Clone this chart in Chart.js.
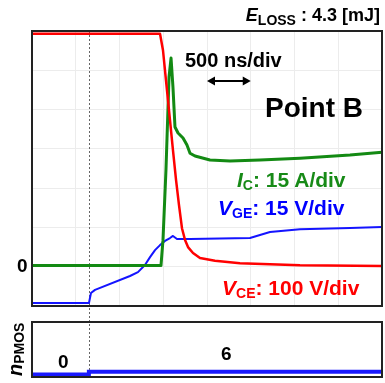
<!DOCTYPE html>
<html>
<head>
<meta charset="utf-8">
<script src="https://cdn.jsdelivr.net/npm/chart.js@4.4.1/dist/chart.umd.min.js"></script>
<style>
  html, body { margin: 0; padding: 0; background: #fff; }
  #wrap { position: relative; width: 385px; height: 383px; overflow: hidden;
          font-family: 'Liberation Sans', Arial, sans-serif; font-weight: bold; }
  canvas { position: absolute; left: 0; }
  .lbl { position: absolute; white-space: nowrap; line-height: 1; }
  .sub { position: relative; top: 3px; font-size: 14px; }
  i { font-style: italic; }
</style>
</head>
<body>
<div id="wrap">
  <canvas id="mainChart" width="385" height="308" style="top:0"></canvas>
  <canvas id="pmosChart" width="385" height="75" style="top:308px"></canvas>

  <div class="lbl" style="right:5px; top:6px; font-size:18px; color:#000">
    <i>E</i><span class="sub" style="top:4px">LOSS</span> : 4.3 [mJ]</div>
  <div class="lbl" style="left:185px; top:50px; font-size:20px; color:#000">500 ns/div</div>
  <div class="lbl" style="left:265px; top:94px; font-size:28px; color:#000">Point B</div>
  <div class="lbl" style="left:237px; top:169px; font-size:21px; color:#178a17">
    <i>I</i><span class="sub">C</span>: 15 A/div</div>
  <div class="lbl" style="left:218px; top:197px; font-size:21px; color:#0000ff">
    <i>V</i><span class="sub">GE</span>: 15 V/div</div>
  <div class="lbl" style="left:222px; top:277px; font-size:21px; color:#ff0000">
    <i>V</i><span class="sub">CE</span>: 100 V/div</div>
  <div class="lbl" style="left:17px; top:256px; font-size:19px; color:#000">0</div>
  <div class="lbl" style="left:58px; top:352px; font-size:19px; color:#000">0</div>
  <div class="lbl" style="left:221px; top:344px; font-size:19px; color:#000">6</div>
  <div class="lbl" style="left:5px; top:376px; font-size:20px; color:#000;
       transform: rotate(-90deg); transform-origin: left top;">
    <i>n</i><span class="sub" style="top:2px">PMOS</span></div>
</div>

<script>
// time axis (ns), 500 ns/div, 8 divisions
const timeRange = [0, 4000];
const gateOnTime = 650;      // dashed marker (gate turn-on)
const arrowSpan = [2000, 2500];

// V_CE (V), 100 V/div
const vceTime = [0, 1463, 1497, 1531, 1554, 1577, 1611, 1646, 1680, 1714, 1749, 1783, 1840, 1920, 2091, 2377, 3063, 4000];
const vceVolt = [590, 590, 548, 472, 421, 370, 294, 218, 154, 95, 65, 47, 32, 19, 12, 6, 1, -1];

// I_C (A), 15 A/div
const icTime = [0, 1474, 1497, 1531, 1566, 1589, 1611, 1634, 1669, 1726, 1771, 1806, 1863, 2034, 2263, 2606, 3063, 3634, 4000];
const icAmp = [0, 0, 9.7, 36.5, 72, 79.2, 68.1, 52.9, 50.6, 48.7, 46, 42.9, 41.8, 40.3, 39.9, 40.3, 41, 42.2, 43.3];

// V_GE (V), 15 V/div
const vgeTime = [0, 651, 674, 720, 1120, 1211, 1291, 1349, 1406, 1463, 1520, 1577, 1611, 1657, 1806, 2491, 2720, 3063, 3634, 4000];
const vgeVolt = [-14.3, -14.3, -10.5, -9.3, -4, -2.5, 0.2, 3.2, 5.9, 7.8, 9.4, 10.5, 11.3, 10.1, 10.1, 10.5, 12.8, 13.9, 14.3, 14.7];

// n_PMOS (count)
const pmosTime = [0, 650, 650, 4000];
const pmosCount = [0, 0, 6, 6];

function pts(xs, ys) {
    return xs.map((x, i) => ({ x: x, y: ys[i] }));
}

// frame, dashed marker and time-scale arrow
const decor = {
    id: 'decor',
    beforeDatasetsDraw(chart) {
        const ctx = chart.ctx;
        const a = chart.chartArea;
        const x = Math.round(chart.scales.x.getPixelForValue(gateOnTime)) + 0.5;
        ctx.save();
        ctx.strokeStyle = '#666';
        ctx.lineWidth = 1;
        ctx.setLineDash([2, 2]);
        ctx.beginPath();
        ctx.moveTo(x, chart.options.plugins.decor.fromTop ? 0 : a.top);
        ctx.lineTo(x, a.bottom);
        ctx.stroke();
        ctx.restore();
    },
    afterDraw(chart) {
        const ctx = chart.ctx;
        const a = chart.chartArea;
        ctx.save();
        ctx.strokeStyle = '#222';
        ctx.lineWidth = 2;
        ctx.strokeRect(a.left, a.top, a.right - a.left, a.bottom - a.top);
        if (chart.options.plugins.decor.arrow) {
            const x1 = chart.scales.x.getPixelForValue(arrowSpan[0]);
            const x2 = chart.scales.x.getPixelForValue(arrowSpan[1]);
            const y = Math.round(chart.scales.y.getPixelForValue(5.73));
            ctx.strokeStyle = '#000';
            ctx.fillStyle = '#000';
            ctx.lineWidth = 2;
            ctx.beginPath();
            ctx.moveTo(x1 + 5, y);
            ctx.lineTo(x2 - 5, y);
            ctx.stroke();
            ctx.beginPath();
            ctx.moveTo(x1, y); ctx.lineTo(x1 + 8, y - 4.5); ctx.lineTo(x1 + 8, y + 4.5); ctx.closePath();
            ctx.moveTo(x2, y); ctx.lineTo(x2 - 8, y - 4.5); ctx.lineTo(x2 - 8, y + 4.5); ctx.closePath();
            ctx.fill();
        }
        ctx.restore();
    }
};

function timeScale(showGrid) {
    return {
        type: 'linear',
        min: timeRange[0],
        max: timeRange[1],
        ticks: { display: false, stepSize: 500 },
        grid: { display: showGrid, color: '#ececec', drawTicks: false },
        border: { display: false }
    };
}

function hiddenAxis(min, max) {
    return { type: 'linear', display: false, min: min, max: max };
}

new Chart(document.getElementById('mainChart'), {
    type: 'line',
    data: {
        datasets: [
            { label: 'VCE', data: pts(vceTime, vceVolt), yAxisID: 'yV',
              borderColor: '#ff0000', borderWidth: 2.5 },
            { label: 'IC', data: pts(icTime, icAmp), yAxisID: 'yI',
              borderColor: '#138a13', borderWidth: 3 },
            { label: 'VGE', data: pts(vgeTime, vgeVolt), yAxisID: 'yG',
              borderColor: '#1414ff', borderWidth: 2 }
        ]
    },
    options: {
        responsive: false,
        animation: false,
        layout: { padding: { left: 32, top: 31, right: 3, bottom: 2 } },
        elements: { point: { radius: 0 }, line: { tension: 0, borderJoinStyle: 'round' } },
        scales: {
            x: timeScale(true),
            y: {
                type: 'linear', min: 0, max: 7,
                ticks: { display: false, stepSize: 1 },
                grid: { color: '#ececec', drawTicks: false },
                border: { display: false }
            },
            // zero level sits 1.03 div above the bottom edge
            yV: hiddenAxis(-103, 597),
            yI: hiddenAxis(-15.45, 89.55),
            yG: hiddenAxis(-15.45, 89.55)
        },
        plugins: {
            legend: { display: false },
            tooltip: { enabled: false },
            decor: { arrow: true, fromTop: false }
        }
    },
    plugins: [decor]
});

new Chart(document.getElementById('pmosChart'), {
    type: 'line',
    data: {
        datasets: [
            { label: 'nPMOS', data: pts(pmosTime, pmosCount),
              borderColor: '#1a1aff', borderWidth: 4 }
        ]
    },
    options: {
        responsive: false,
        animation: false,
        layout: { padding: { left: 32, top: 14, right: 3, bottom: 6 } },
        elements: { point: { radius: 0 }, line: { tension: 0 } },
        scales: {
            x: timeScale(false),
            y: {
                type: 'linear', min: -6, max: 120,
                ticks: { display: false },
                grid: { display: false, drawTicks: false },
                border: { display: false }
            }
        },
        plugins: {
            legend: { display: false },
            tooltip: { enabled: false },
            decor: { arrow: false, fromTop: true }
        }
    },
    plugins: [decor]
});
</script>
</body>
</html>
